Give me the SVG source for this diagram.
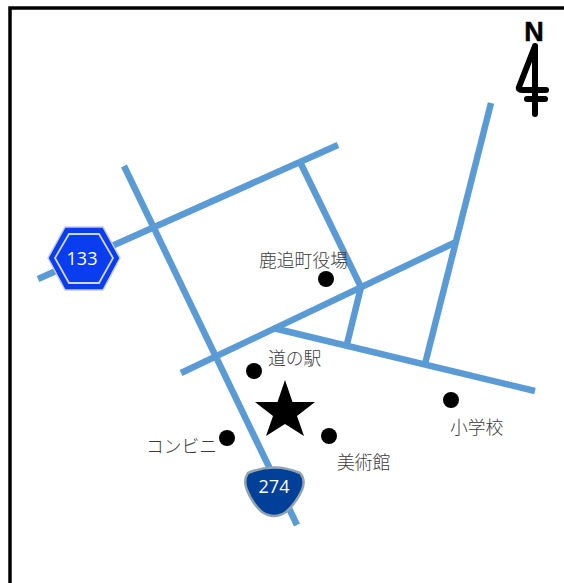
<svg xmlns="http://www.w3.org/2000/svg" width="564" height="583" viewBox="0 0 564 583">
<style>
.road{stroke:#5b9bd5;stroke-width:6.500;fill:none;stroke-linecap:butt}
.lbl{font-family:"Noto Sans CJK JP",sans-serif;font-size:17.800px;fill:#3a3a3a;font-weight:300}
.num{font-family:"Open Sans","Liberation Sans",sans-serif;font-size:18px;fill:#fff;text-anchor:middle}
.dot{fill:#000}
</style>
<rect width="564" height="583" fill="#fff"/>
<path id="frame" d="M10 583V8H564" fill="none" stroke="#000" stroke-width="3.500"/>
<g id="connectors">
<path class="road" d="M38 279L338 145"/>
<path class="road" d="M124 166L297 525"/>
<path class="road" d="M181 373L456 242"/>
<path class="road" d="M300 162L361 287L346 348"/>
<path class="road" d="M491 103L425 364"/>
<path class="road" d="M273 328L535 391"/>
</g>
<g id="north">
<text x="534" y="41" font-family="Liberation Sans,sans-serif" font-weight="700" font-size="27" text-anchor="middle" stroke="#000" stroke-width=".5">N</text>
<path d="M535 46L519 87Q518 90 522 90H546M535 46V114M527 99H545" fill="none" stroke="#000" stroke-width="6" stroke-linecap="round" stroke-linejoin="round"/>
</g>
<g id="r133">
<path d="M65 227H103L120 258L103 290H65L48 258Z" fill="#0a3cf0" stroke="#c4cce0" stroke-width="1.500" stroke-linejoin="round"/>
<path d="M69 234H99L113 258L99 283H69L55 258Z" fill="none" stroke="#d0d6ea" stroke-width="1.800"/>
<text class="num" x="82" y="265">133</text>
</g>
<g id="r274">
<path d="M248 473Q274 462 300 473Q306 480 302 490Q296 503 286 512Q274 520 262 512Q252 503 247 490Q243 480 248 473Z" fill="#004098" stroke="#93a3ad" stroke-width="2.500"/>
<text class="num" x="274" y="493">274</text>
</g>
<g id="star"><path d="M285 380L292.500 402H315L297 416L304 436L285 424L266 436L273 416L255 402H277.500Z" fill="#000"/></g>
<g id="n1"><circle class="dot" cx="326" cy="279" r="8"/><text class="lbl" x="259" y="267">鹿追町役場</text></g>
<g id="n2"><circle class="dot" cx="254" cy="371" r="8"/><text class="lbl" x="268" y="365">道の駅</text></g>
<g id="n3"><circle class="dot" cx="227" cy="438" r="8"/><text class="lbl" x="146" y="453">コンビニ</text></g>
<g id="n4"><circle class="dot" cx="329" cy="436" r="8"/><text class="lbl" x="337" y="469">美術館</text></g>
<g id="n5"><circle class="dot" cx="451" cy="400" r="8"/><text class="lbl" x="450" y="434">小学校</text></g>
</svg>
